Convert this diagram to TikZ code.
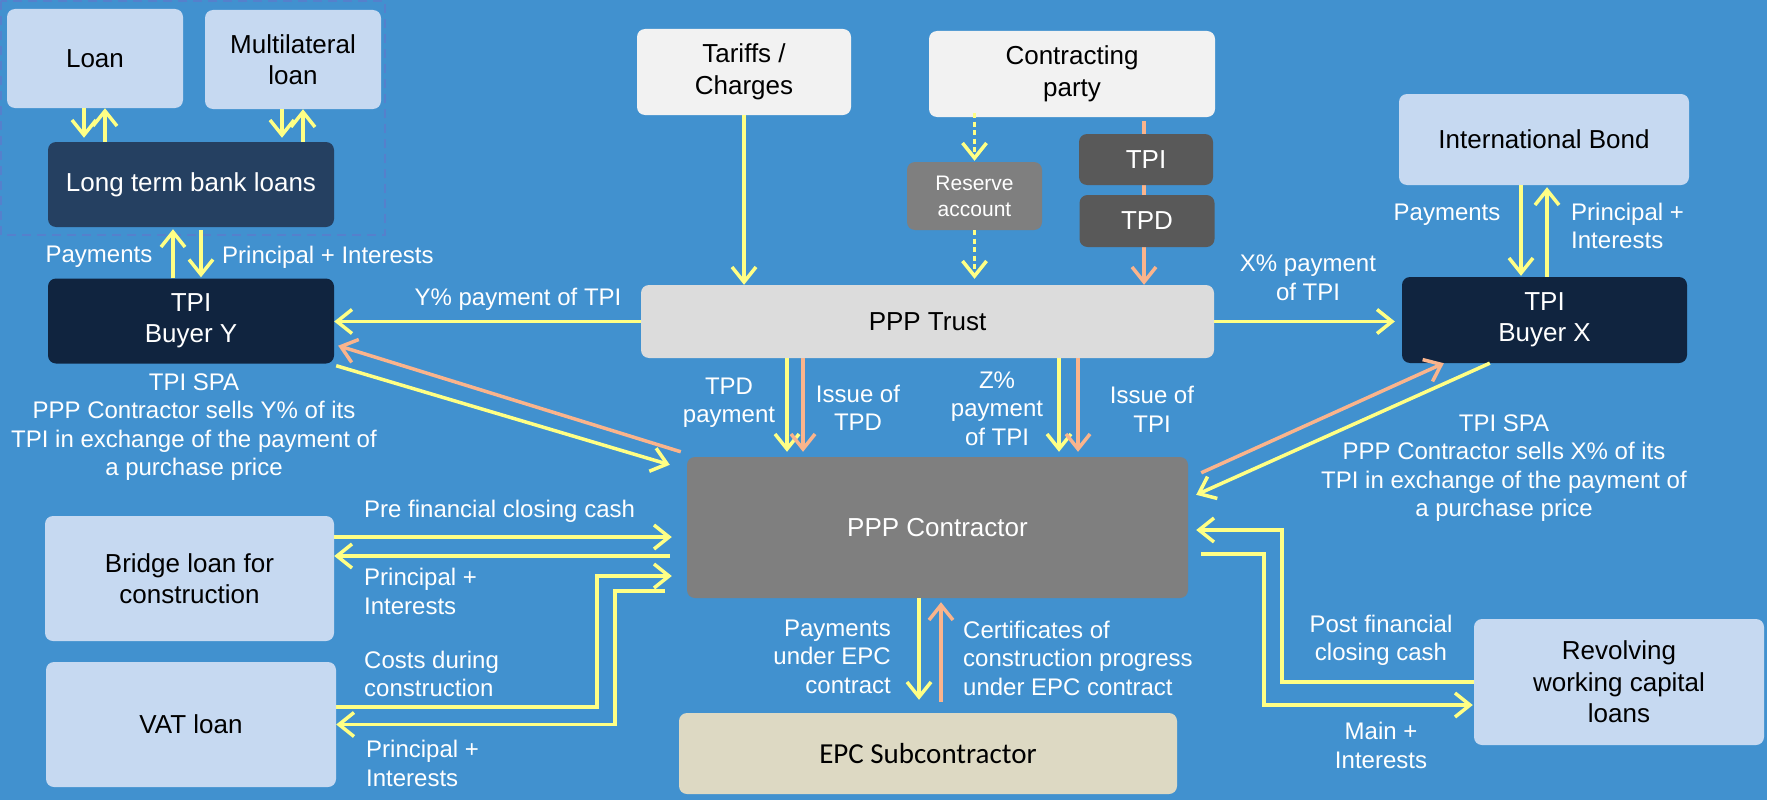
\documentclass[tikz,border=0pt]{standalone}
\usepackage{fontspec}
\setmainfont{Liberation Sans}
\newfontfamily\epcfont{Carlito}
\usetikzlibrary{arrows.meta,calc}

\definecolor{bg}{HTML}{4191CF}
\definecolor{frameblue}{HTML}{5580CC}
\definecolor{lblue}{HTML}{C6D9F1}
\definecolor{pale}{HTML}{F2F2F2}
\definecolor{trustgray}{HTML}{DCDCDC}
\definecolor{midgray}{HTML}{7F7F7F}
\definecolor{darkgray}{HTML}{595959}
\definecolor{navy}{HTML}{254061}
\definecolor{deepnavy}{HTML}{10243F}
\definecolor{sand}{HTML}{DDD9C3}
\definecolor{yel}{HTML}{FFFF85}
\definecolor{peach}{HTML}{FAB48C}

\tikzset{
  box/.style={rounded corners=8pt, inner sep=0pt, align=center,
    font=\fontsize{26}{31.5}\selectfont},
  lbbox/.style={box, fill=lblue, text=black},
  palebox/.style={box, fill=pale, text=black},
  darkbox/.style={box, fill=darkgray, text=white},
  navybox/.style={box, fill=navy, text=white},
  buyerbox/.style={box, fill=deepnavy, text=white},
  lbl/.style={text=white, inner sep=0pt, align=center,
    font=\fontsize{24}{28.5}\selectfont},
  ya/.style={draw=yel, line width=3.5pt, -{Straight Barb[length=15pt,width=24pt]}},
  yd/.style={ya, dash pattern=on 5pt off 3.5pt},
  oa/.style={draw=peach, line width=3.5pt, -{Straight Barb[length=15pt,width=24pt]}},
  frame/.style={draw=frameblue, line width=1.3pt, dash pattern=on 9pt off 6pt},
}

\begin{document}
\begin{tikzpicture}[x=1pt, y=-1pt]
\useasboundingbox (0,0) rectangle (1767,800);
\fill[bg] (0,0) rectangle (1767,800);

% lender group frame
\draw[frame] (1,1) rectangle (385,235);

% lenders and long term loans
\node[lbbox, minimum width=176pt, minimum height=99pt] (loan) at (95,58.5) {Loan};
\node[lbbox, minimum width=176pt, minimum height=99pt] (multi) at (293,59.5) {Multilateral\\loan};
\node[navybox, minimum width=286pt, minimum height=85pt] (ltbl) at (191,184.5) {Long term bank loans};
\node[buyerbox, minimum width=286pt, minimum height=85pt] (buyerY) at (191,321) {TPI\\Buyer Y};

% top sources
\node[palebox, minimum width=214pt, minimum height=86pt] (tariffs) at (744,72) {Tariffs /\\Charges};
\node[palebox, minimum width=286pt, minimum height=86pt] (contracting) at (1072,74) {Contracting\\party};
\node[box, fill=midgray, text=white, minimum width=135pt, minimum height=68pt,
  font=\fontsize{21}{26}\selectfont] (reserve) at (974.5,196) {Reserve\\account};

% trust and contractor
\node[box, fill=trustgray, text=black, minimum width=573pt, minimum height=73pt] (trust) at (927.5,321.5) {PPP Trust};
\node[box, fill=midgray, text=white, minimum width=501pt, minimum height=141pt] (contractor) at (937.5,527.5) {PPP Contractor};

% right side
\node[lbbox, minimum width=290pt, minimum height=91pt] (ibond) at (1544,139.5) {International Bond};
\node[buyerbox, minimum width=285pt, minimum height=86pt] (buyerX) at (1544.5,320) {TPI\\Buyer X};
\node[lbbox, minimum width=290pt, minimum height=126pt] (revolving) at (1619,682) {Revolving\\working capital\\loans};

% lower left and bottom
\node[lbbox, minimum width=289pt, minimum height=125pt] (bridge) at (189.5,578.5) {Bridge loan for\\construction};
\node[lbbox, minimum width=290pt, minimum height=125pt] (vat) at (191,724.5) {VAT loan};
\node[box, fill=sand, text=black, minimum width=498pt, minimum height=81pt,
  font=\epcfont\fontsize{29}{34}\selectfont] (epc) at (928,753.5) {EPC Subcontractor};

% issue line from the contracting party, behind the TPI / TPD tags
\draw[oa] ($(contracting.south)+(72,4)$) -- ($(contracting.south |- trust.north)+(72,0)$);
\node[darkbox, minimum width=134pt, minimum height=51pt] (tpi) at (1146,159.5) {TPI};
\node[darkbox, minimum width=135pt, minimum height=52pt] (tpd) at (1147,221) {TPD};

% loans to long term bank loans
\draw[ya] ($(loan.south)+(-11,0)$) -- ($(loan.south |- ltbl.north)+(-11,-4)$);
\draw[ya] ($(loan.south |- ltbl.north)+(10,0)$) -- ($(loan.south)+(10,0)$);
\draw[ya] ($(multi.south)+(-11,0)$) -- ($(multi.south |- ltbl.north)+(-11,-4)$);
\draw[ya] ($(multi.south |- ltbl.north)+(10,0)$) -- ($(multi.south)+(10,0)$);

% long term bank loans and buyer Y
\draw[ya] ($(ltbl.south |- buyerY.north)+(-18,0)$) -- ($(ltbl.south)+(-18,2)$);
\draw[ya] ($(ltbl.south)+(10,3)$) -- ($(ltbl.south |- buyerY.north)+(10,-1)$);
\node[lbl] (lpay) at (99,257) {Payments};
\node[lbl, anchor=west] (lpi) at (222,257) {Principal + Interests};

% into the trust
\draw[ya] (tariffs.south) -- (tariffs.south |- trust.north);
\draw[yd] ($(reserve.north |- contracting.south)+(0,-4)$) -- ($(reserve.north)+(0,-1)$);
\draw[yd] (reserve.south) -- ($(reserve.south |- trust.north)+(0,-6)$);

% trust to buyers
\draw[ya] (trust.west) -- (trust.west -| buyerY.east);
\draw[ya] (trust.east) -- ($(trust.east -| buyerX.west)+(-7,0)$);
\node[lbl] (ypay) at (518,299) {Y\% payment of TPI};
\node[lbl] (xpay) at (1308,278) {X\% payment\\of TPI};

% international bond and buyer X
\draw[ya] ($(ibond.south)+(-23,0)$) -- ($(ibond.south |- buyerX.north)+(-23,-1)$);
\draw[ya] ($(ibond.south |- buyerX.north)+(3,0)$) -- ($(ibond.south)+(3,2)$);
\node[lbl] (bpay) at (1447,215) {Payments};
\node[lbl, anchor=west, align=left] (bpi) at (1571,226) {Principal +\\Interests};

% trust to contractor
\draw[ya] ($(trust.south)+(-140.5,0)$) -- ($(trust.south |- contractor.north)+(-140.5,-5)$);
\draw[oa] ($(trust.south)+(-124.5,0)$) -- ($(trust.south |- contractor.north)+(-124.5,-5)$);
\draw[ya] ($(trust.south)+(131.5,0)$) -- ($(trust.south |- contractor.north)+(131.5,-5)$);
\draw[oa] ($(trust.south)+(150.5,0)$) -- ($(trust.south |- contractor.north)+(150.5,-5)$);
\node[lbl] (tpdpay) at (729,402.5) {TPD\\payment};
\node[lbl] (tpdiss) at (858,408) {Issue of\\TPD};
\node[lbl] (zpay) at (997,408.5) {Z\%\\payment\\of TPI};
\node[lbl] (tpiiss) at (1152,409.5) {Issue of\\TPI};

% TPI sale and purchase agreements
\draw[oa] ($(contractor.north west)+(-6,-5)$) -- ($(buyerY.south east)+(4,-18)$);
\draw[ya] ($(buyerY.south east)+(2,2)$) -- ($(contractor.north west)+(-17,8)$);
\draw[oa] ($(contractor.north east)+(13,16)$) -- ($(buyerX.south west)+(42,0)$);
\draw[ya] ($(buyerX.south west)+(88,0)$) -- ($(contractor.north east)+(8,38)$);
\node[lbl] (spay) at (194,427) {TPI SPA\\PPP Contractor sells Y\% of its\\TPI in exchange of the payment of\\a purchase price};
\node[lbl] (spax) at (1504,468) {TPI SPA\\PPP Contractor sells X\% of its\\TPI in exchange of the payment of\\a purchase price};

% bridge loan and VAT loan
\coordinate (c1) at ($(contractor.west)+(-15,9.5)$);
\coordinate (c2) at ($(contractor.west)+(-17,28.5)$);
\coordinate (c3) at ($(contractor.west)+(-15,48.5)$);
\coordinate (c4) at ($(contractor.west)+(-22,63.5)$);
\draw[ya] (bridge.east |- c1) -- (c1);
\draw[ya] (c2) -- (bridge.east |- c2);
\draw[ya] ($(vat.east)+(0,-17.5)$) -| ($(c3)+(-75,0)$) -- (c3);
\draw[ya] (c4) -- ++(-50,0) |- (vat.east);
\node[lbl, anchor=west] (pre) at (364,511) {Pre financial closing cash};
\node[lbl, anchor=west, align=left] (bpi2) at (364,591.5) {Principal +\\Interests};
\node[lbl, anchor=west, align=left] (costs) at (364,674) {Costs during\\construction};
\node[lbl, anchor=west, align=left] (vpi) at (366,763.5) {Principal +\\Interests};

% revolving working capital loans
\coordinate (r1) at ($(contractor.east)+(8,2.5)$);
\coordinate (r2) at ($(contractor.east)+(13,26.5)$);
\draw[ya] (revolving.west) -| ($(r1)+(86,0)$) -- (r1);
\draw[ya] (r2) -- ++(63,0) |- ($(revolving.west)+(-1,23)$);
\node[lbl] (post) at (1381,640.5) {Post financial\\closing cash};
\node[lbl] (mainint) at (1381,745.5) {Main +\\Interests};

% EPC subcontract
\draw[ya] ($(contractor.south)+(-18.5,0)$) -- ($(contractor.south |- epc.north)+(-18.5,-13)$);
\draw[oa] ($(contractor.south |- epc.north)+(3.5,-11)$) -- ($(contractor.south)+(3.5,4)$);
\node[lbl, anchor=east, align=right] (epcpay) at (891,656.5) {Payments\\under EPC\\contract};
\node[lbl, anchor=west, align=left] (epccert) at (963,658) {Certificates of\\construction progress\\under EPC contract};
\end{tikzpicture}
\end{document}
